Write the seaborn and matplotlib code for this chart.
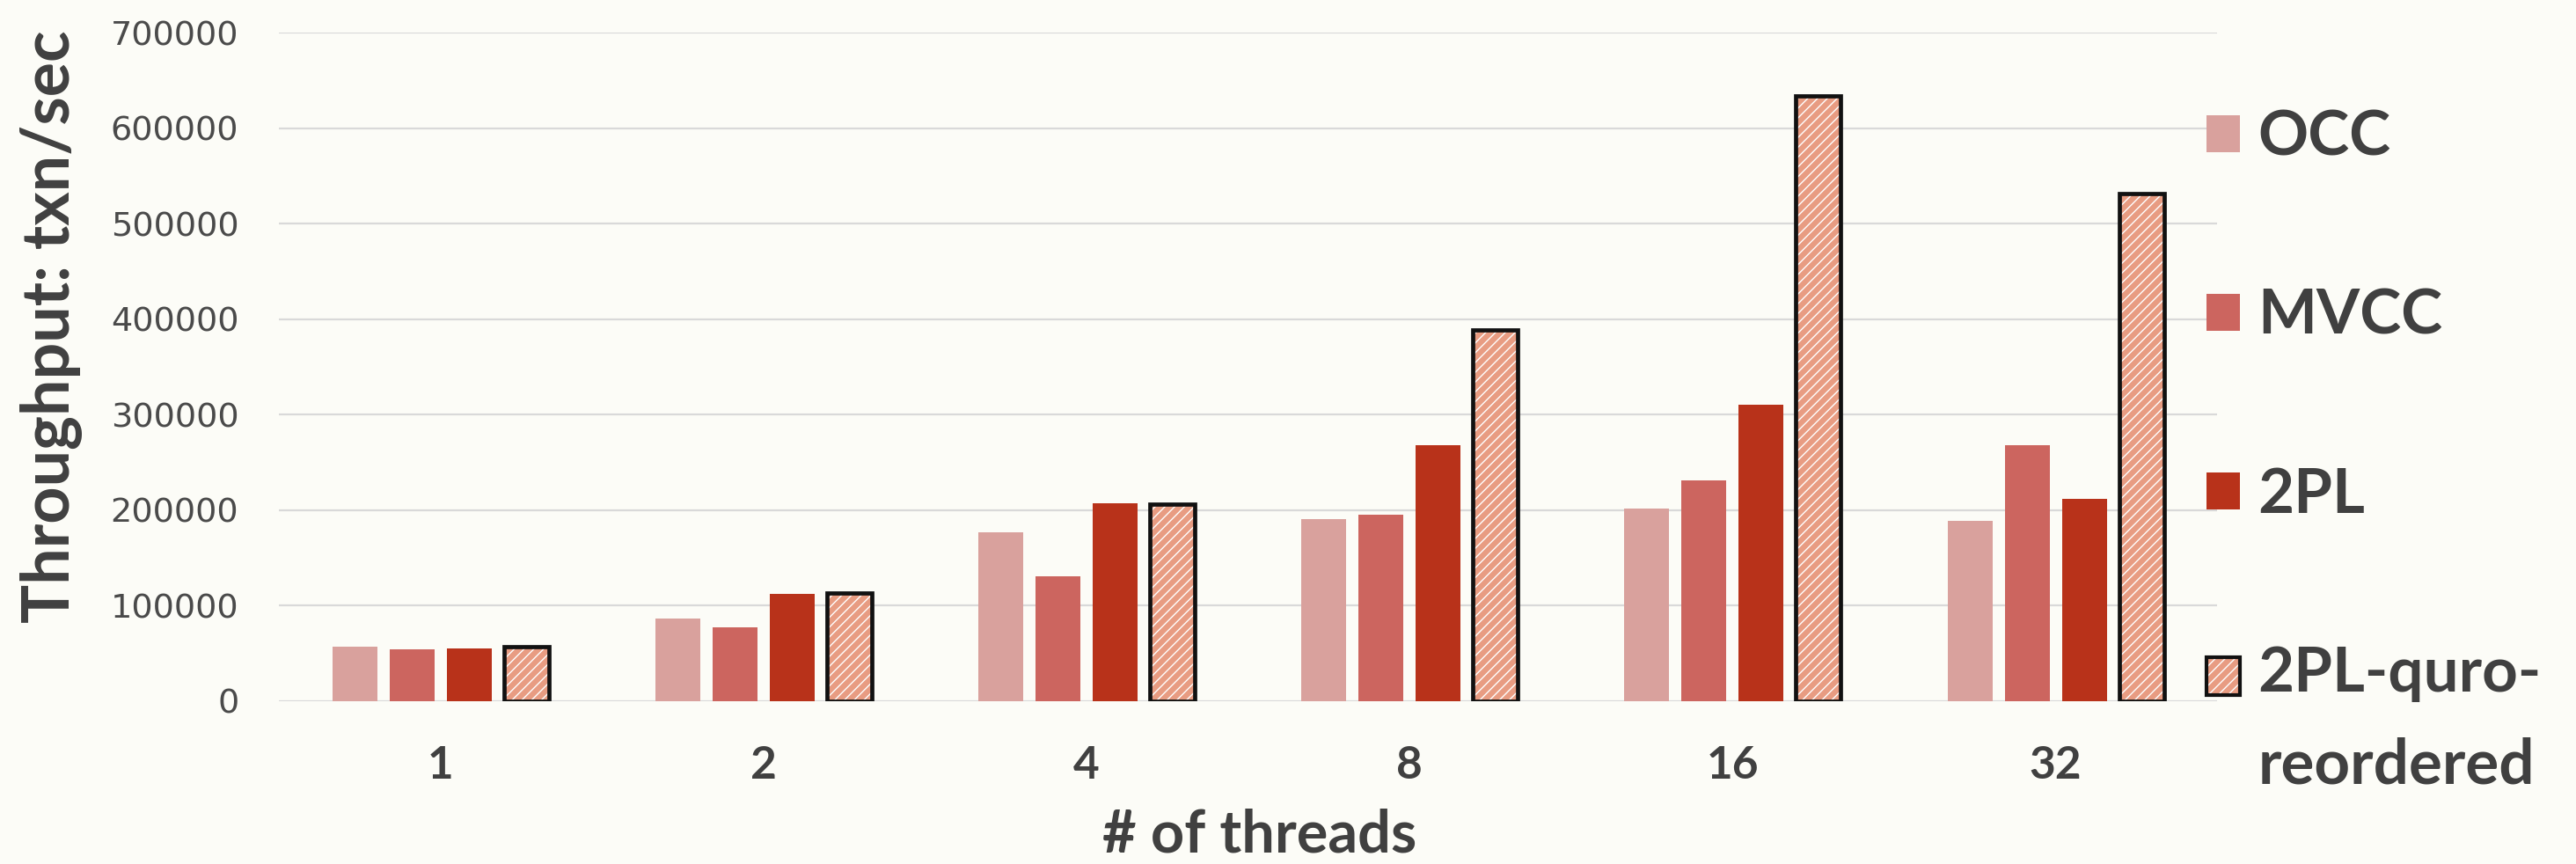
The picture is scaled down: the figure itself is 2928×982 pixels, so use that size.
import numpy as np
import pandas as pd
import matplotlib
matplotlib.use("Agg")
import matplotlib.pyplot as plt
import seaborn as sns
from matplotlib.patches import Patch, Rectangle

# ---- data -------------------------------------------------------------
threads = ["1", "2", "4", "8", "16", "32"]
occ = [57000, 87000, 177000, 191000, 202000, 189000]
mvcc = [54000, 77000, 131000, 195000, 231000, 268000]
two_pl = [55500, 112000, 207000, 268000, 310000, 212000]
quro = [57000, 113000, 206000, 389000, 634000, 531000]
schemes = ["OCC", "MVCC", "2PL", "2PL-quro-\nreordered"]
y_ticks = [0, 100000, 200000, 300000, 400000, 500000, 600000, 700000]

df = pd.DataFrame({
    "threads": threads * 4,
    "scheme": np.repeat(schemes, len(threads)),
    "throughput": occ + mvcc + two_pl + quro,
})

# ---- style ------------------------------------------------------------
BG = "#FCFCF7"
TEXT = "#404040"
GRID = "#D9D9D9"
colors = ["#D9A19D", "#CC655F", "#B8321A", "#E89C82"]
palette = dict(zip(schemes, colors))

sns.set_theme(style="white")
plt.rcParams["font.family"] = ["Lato", "DejaVu Sans"]
plt.rcParams["hatch.linewidth"] = 1.0

fig = plt.figure(figsize=(29.28, 9.82), dpi=100, facecolor=BG)
ax = fig.add_axes([0.1083, 0.1884, 0.7524, 0.7739])
ax.set_facecolor(BG)

sns.barplot(data=df, x="threads", y="throughput", hue="scheme",
            order=threads, hue_order=schemes, palette=palette,
            saturation=1, width=0.708, gap=0.215, linewidth=0,
            errorbar=None, legend=False, ax=ax)

# hatched, black-outlined bars for the reordered 2PL variant
for p in ax.containers[3]:
    p.set_hatch("///")
    p.set_edgecolor("white")
    p.set_linewidth(0)
    ax.add_patch(Rectangle(p.get_xy(), p.get_width(), p.get_height(),
                           fill=False, edgecolor="#111111", linewidth=3.4,
                           zorder=p.get_zorder() + 0.1))

ax.set_xlim(-0.5, 5.5)
ax.set_ylim(0, 700000)
ax.set_yticks(y_ticks)
ax.set_yticklabels([str(v) for v in y_ticks], family="DejaVu Sans")
ax.yaxis.grid(True, color=GRID, linewidth=1.6)
ax.set_axisbelow(True)
for s in ax.spines.values():
    s.set_visible(False)

ax.tick_params(axis="y", length=0, pad=33, labelsize=27.5, labelcolor="#4A4A4A")
ax.tick_params(axis="x", length=0, pad=36, labelsize=37, labelcolor=TEXT)
for t in ax.get_xticklabels():
    t.set_fontweight("bold")

ax.set_xlabel("# of threads", fontsize=48, fontweight="bold", color=TEXT, va="center")
ax.xaxis.set_label_coords(0.506, -0.201)
ax.set_ylabel("Throughput: txn/sec", fontsize=53, fontweight="bold", color=TEXT, va="center")
ax.yaxis.set_label_coords(-0.1176, 0.5605)


# ---- legend -----------------------------------------------------------
class SquareHandler:
    def __init__(self, face, hatch=None, edge=None, lift=0.0):
        self.face, self.hatch, self.edge, self.lift = face, hatch, edge, lift

    def legend_artist(self, legend, orig_handle, fontsize, handlebox):
        x0, y0 = -handlebox.xdescent, -handlebox.ydescent + self.lift * fontsize
        w, h = handlebox.width, handlebox.height
        tr = handlebox.get_transform()
        sq = Rectangle((x0, y0), w, h, facecolor=self.face,
                       edgecolor="white" if self.hatch else "none",
                       hatch=self.hatch, linewidth=0, transform=tr)
        handlebox.add_artist(sq)
        if self.edge:
            handlebox.add_artist(Rectangle((x0, y0), w, h, fill=False,
                                           edgecolor=self.edge, linewidth=3.0,
                                           transform=tr))
        return sq


handles = [Patch(label=s) for s in schemes]
hmap = {
    handles[0]: SquareHandler(colors[0]),
    handles[1]: SquareHandler(colors[1]),
    handles[2]: SquareHandler(colors[2]),
    handles[3]: SquareHandler(colors[3], hatch="///", edge="#111111", lift=0.72),
}
leg = fig.legend(handles=handles, labels=schemes, handler_map=hmap,
                 loc="upper left", bbox_to_anchor=(0.8566, 0.874),
                 frameon=False, borderpad=0, borderaxespad=0,
                 handlelength=0.54, handleheight=0.54, handletextpad=0.28,
                 labelspacing=1.95, prop={"size": 51, "weight": "bold"})
for t in leg.get_texts():
    t.set_color(TEXT)
leg.get_texts()[3].set_linespacing(1.75)

fig.savefig("out.png", dpi=100, facecolor=BG)
